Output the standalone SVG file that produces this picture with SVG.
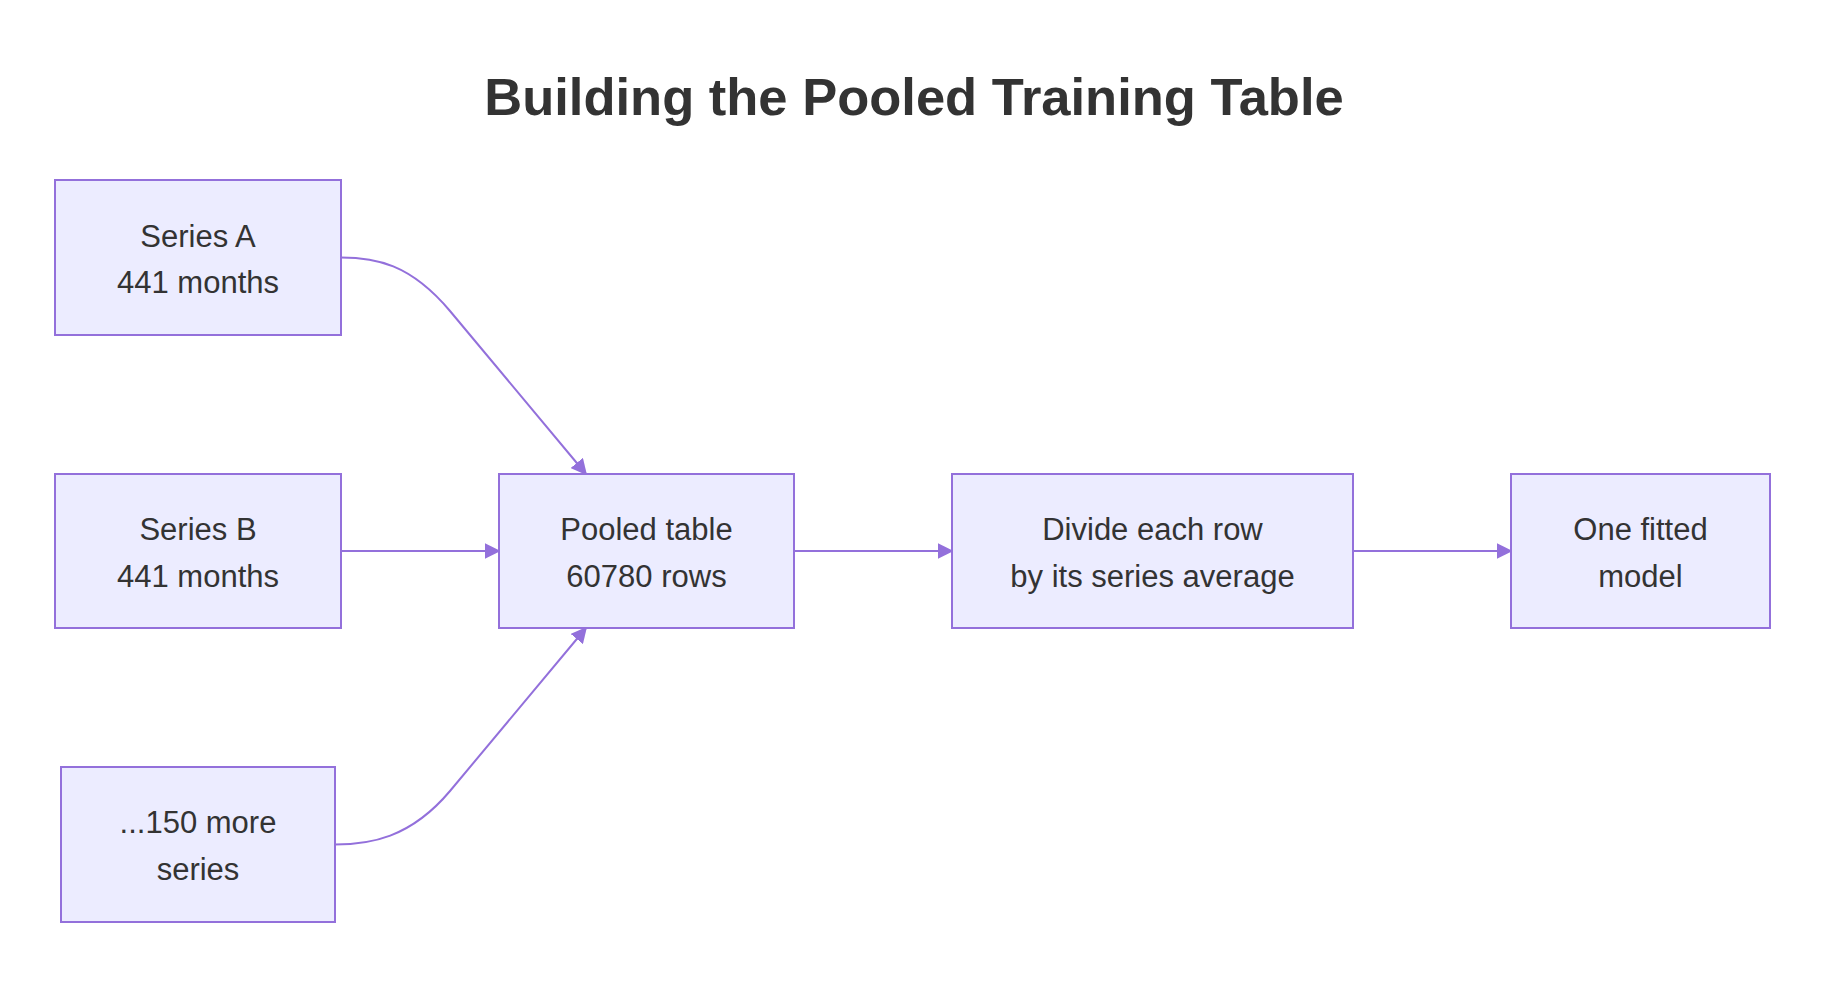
<svg xmlns="http://www.w3.org/2000/svg" width="1844" height="986" viewBox="0 0 1844 986">
<style>
.node rect{fill:#ECECFF;stroke:#9370DB;stroke-width:2}
.node text{font-family:"Liberation Sans",Arial,sans-serif;font-size:31px;fill:#333;text-anchor:middle}
.edge{fill:none;stroke:#9370DB;stroke-width:2}
.title{font-family:"Liberation Sans",Arial,sans-serif;font-size:52.5px;font-weight:bold;fill:#333;text-anchor:middle}
</style>
<defs>
<marker id="arrow" viewBox="0 0 10 10" refX="9" refY="5" markerUnits="userSpaceOnUse" markerWidth="16" markerHeight="16" orient="auto">
<path d="M0,0 L10,5 L0,10 z" fill="#9370DB"/>
</marker>
</defs>
<rect width="1844" height="986" fill="#ffffff"/>
<text class="title" x="914" y="115">Building the Pooled Training Table</text>
<g id="connectors">
<path class="edge" d="M341,257.5 C375,257.5 410,263.4 450,311 L586,474" marker-end="url(#arrow)"/>
<path class="edge" d="M341,551 L499,551" marker-end="url(#arrow)"/>
<path class="edge" d="M335,844.5 C369,844.5 410,838.6 450,791 L586,628" marker-end="url(#arrow)"/>
<path class="edge" d="M794,551 L952,551" marker-end="url(#arrow)"/>
<path class="edge" d="M1353,551 L1511,551" marker-end="url(#arrow)"/>
</g>
<g id="seriesA" class="node">
<rect x="55" y="180" width="286" height="155"/>
<text x="198" y="246.5">Series A</text>
<text x="198" y="293">441 months</text>
</g>
<g id="seriesB" class="node">
<rect x="55" y="474" width="286" height="154"/>
<text x="198" y="540">Series B</text>
<text x="198" y="586.5">441 months</text>
</g>
<g id="moreSeries" class="node">
<rect x="61" y="767" width="274" height="155"/>
<text x="198" y="833">...150 more</text>
<text x="198" y="880">series</text>
</g>
<g id="pooled" class="node">
<rect x="499" y="474" width="295" height="154"/>
<text x="646.5" y="540">Pooled table</text>
<text x="646.5" y="586.5">60780 rows</text>
</g>
<g id="divide" class="node">
<rect x="952" y="474" width="401" height="154"/>
<text x="1152.5" y="540">Divide each row</text>
<text x="1152.5" y="586.5">by its series average</text>
</g>
<g id="model" class="node">
<rect x="1511" y="474" width="259" height="154"/>
<text x="1640.5" y="540">One fitted</text>
<text x="1640.5" y="586.5">model</text>
</g>
</svg>
